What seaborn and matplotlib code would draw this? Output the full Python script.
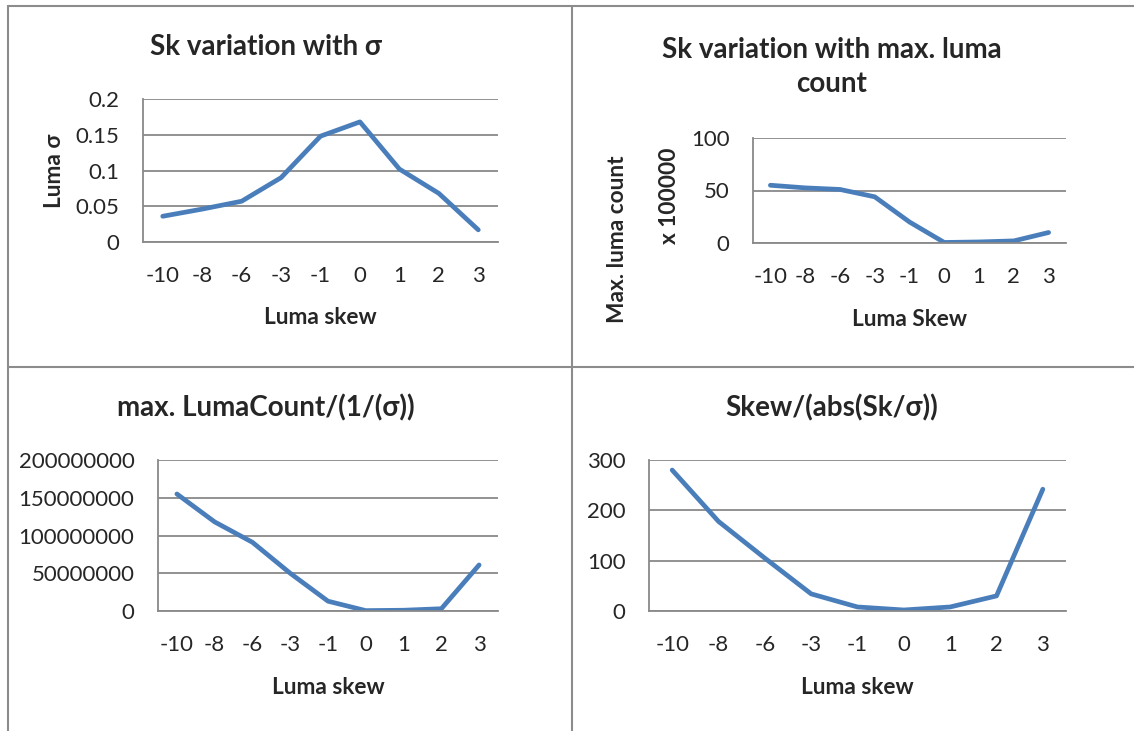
import numpy as np
import matplotlib
matplotlib.use("Agg")
import matplotlib.pyplot as plt
import seaborn as sns
from matplotlib.lines import Line2D
from matplotlib.ticker import FuncFormatter

# data
skew = ["-10", "-8", "-6", "-3", "-1", "0", "1", "2", "3"]
luma_sigma = [0.036, 0.046, 0.057, 0.090, 0.148, 0.168, 0.102, 0.068, 0.017]
max_luma_count = [55, 52.5, 51, 44, 20, 0.5, 1, 2, 10]  # x 100000
count_times_sigma = [155e6, 118e6, 91e6, 50e6, 13e6, 0.5e6, 1e6, 3e6, 61e6]
skew_over_ratio = [280, 178, 105, 34, 8, 2, 8, 30, 242]

BLUE = "#4a7ebb"
GRID = "#898989"
BORDER = "#8c8c8c"
W, H = 1134, 731

sns.set_style("white")
plt.rcParams["font.family"] = ["Lato", "DejaVu Sans"]

fig = plt.figure(figsize=(W / 100, H / 100), dpi=100)


def rect(l, t, r, b):
    return [l / W, 1 - b / H, (r - l) / W, (b - t) / H]


def fmt_num(v, pos):
    if abs(v) >= 1e6:
        return f"{v:.0f}"
    return f"{v:g}"


def draw(box, y, ymax, step, title, title_xy, xlabel, xlabel_y, ylabels=()):
    l, t, r, b = box
    w, h = r - l, b - t
    ax = fig.add_axes(rect(l, t, r, b))
    sns.lineplot(x=skew, y=y, ax=ax, color=BLUE, lw=3.4)
    ax.set_xlim(-0.5, len(skew) - 0.5)
    ax.set_ylim(0, ymax)
    ax.set_yticks(np.arange(0, ymax + step / 2, step))
    ax.yaxis.set_major_formatter(FuncFormatter(fmt_num))
    ax.grid(axis="y", color=GRID, lw=1.3)
    ax.set_axisbelow(True)
    ax.set_xticks(np.arange(-0.5, len(skew)), minor=True)
    ax.tick_params(axis="x", which="major", length=0, pad=17, labelsize=16)
    ax.tick_params(axis="x", which="minor", length=7, color=GRID, width=1.3, direction="out")
    ax.tick_params(axis="y", length=6, color=GRID, width=1.3, pad=11, labelsize=16, direction="out")
    for s in ["top", "right"]:
        ax.spines[s].set_visible(False)
    for s in ["left", "bottom"]:
        ax.spines[s].set_color(GRID)
        ax.spines[s].set_linewidth(1.3)
    tx, ty = title_xy
    ax.set_title(title, fontsize=20, fontweight="bold", x=(tx - l) / w, y=(b - ty) / h,
                 pad=0, ha="center", va="center", linespacing=1.4)
    ax.set_xlabel(xlabel, fontsize=16.3, fontweight="bold", va="center")
    ax.xaxis.set_label_coords(0.5, (b - xlabel_y) / h)
    ax.set_ylabel("")
    for text, px, py in ylabels:
        ax.text((px - l) / w, (b - py) / h, text, transform=ax.transAxes, rotation=90,
                ha="center", va="center", fontsize=16.3, fontweight="bold")
    return ax


draw((143, 99, 498, 242), luma_sigma, 0.2, 0.05,
     "Sk variation with σ", (266, 47), "Luma skew", 318,
     [("Luma σ", 55, 171)])

draw((753, 138, 1066, 243), max_luma_count, 100, 50,
     "Sk variation with max. luma\ncount", (832, 67), "Luma Skew", 320,
     [("Max. luma count", 618, 239), ("x 100000", 670, 196)])

draw((158, 460, 498, 611), count_times_sigma, 200e6, 50e6,
     "max. LumaCount/(1/(σ))", (266, 408), "Luma skew", 687)

draw((649, 460, 1066, 611), skew_over_ratio, 300, 100,
     "Skew/(abs(Sk/σ))", (832, 408), "Luma skew", 687)

# table-like cell borders
for x0, y0, x1, y1 in [(8, 6, 1134, 6), (8, 6, 8, 731), (572, 6, 572, 731), (8, 367, 1134, 367)]:
    fig.add_artist(Line2D([x0 / W, x1 / W], [1 - y0 / H, 1 - y1 / H], color=BORDER, lw=1.5))

fig.savefig("out.png", dpi=100)
